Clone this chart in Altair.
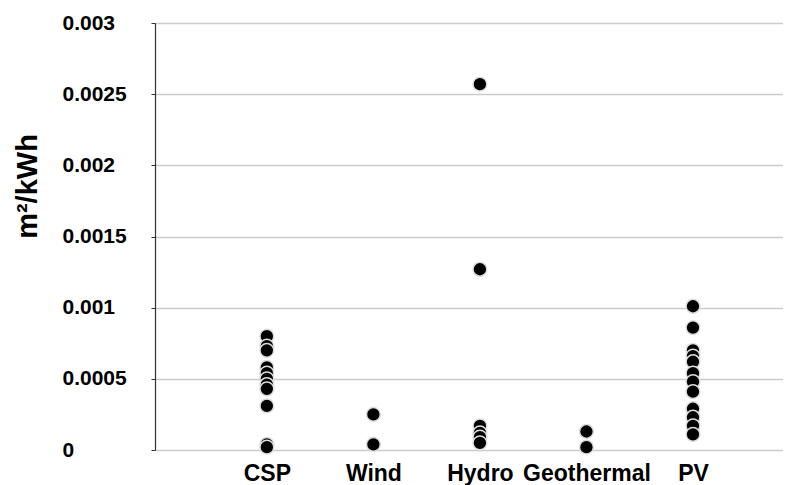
import altair as alt
import pandas as pd

categories = ["CSP", "Wind", "Hydro", "Geothermal", "PV"]
csp = [0.00080, 0.00073, 0.00070, 0.00058, 0.00054, 0.00050, 0.00046, 0.00043, 0.00031, 0.00004, 0.00002]
wind = [0.00025, 0.00004]
hydro = [0.00257, 0.00127, 0.00017, 0.00012, 0.00009, 0.00005]
geothermal = [0.00013, 0.00002]
pv = [0.00101, 0.00086, 0.00070, 0.00066, 0.00062, 0.00054, 0.00048, 0.00041, 0.00029, 0.00023, 0.00017, 0.00011]
y_ticks = [0, 0.0005, 0.001, 0.0015, 0.002, 0.0025, 0.003]

series = [csp, wind, hydro, geothermal, pv]
rows = []
for i, (cat, vals) in enumerate(zip(categories, series)):
    for v in vals:
        rows.append({"pos": i + 1, "category": cat, "value": v})
df = pd.DataFrame(rows)

label_expr = "datum.value == 1 ? 'CSP' : datum.value == 2 ? 'Wind' : datum.value == 3 ? 'Hydro' : datum.value == 4 ? 'Geothermal' : datum.value == 5 ? 'PV' : ''"

chart = alt.Chart(df).mark_point(
    filled=True, shape="circle", size=190, fill="black", stroke="#dddddd", strokeWidth=1.5, opacity=1
).encode(
    x=alt.X("pos:Q", scale=alt.Scale(domain=[-0.05, 5.845], nice=False, zero=False),
            axis=alt.Axis(values=[1, 2, 3, 4, 5], labelExpr=label_expr, title=None, grid=False,
                          domain=False, ticks=False, tickSize=0, labelPadding=30,
                          labelBaseline="alphabetic", labelFontSize=23, labelFontWeight="bold",
                          labelFont="Liberation Sans", labelColor="black", labelFlush=False,
                          labelOverlap=False)),
    y=alt.Y("value:Q", scale=alt.Scale(domain=[0, 0.003], nice=False),
            axis=alt.Axis(values=y_ticks, format="~g", title="m²/kWh",
                          titleFontSize=29, titleFont="Liberation Sans", titleFontWeight="bold",
                          titleColor="black", titleAngle=270, titleX=-128, titleY=163,
                          titleAlign="center", titleBaseline="middle",
                          labelAlign="left", labelPadding=89, labelBaseline="middle",
                          labelFontSize=21, labelFont="Liberation Sans", labelFontWeight="bold",
                          labelColor="black", tickSize=4, tickColor="#333333",
                          domainColor="#333333", domainWidth=1.2,
                          grid=True, gridColor="#cccccc", gridWidth=1.6, labelFlush=False)),
).properties(
    width=628, height=427,
    padding={"left": 147, "top": 15, "right": 0, "bottom": 35},
    autosize=alt.AutoSizeParams(type="none"),
).configure_view(stroke=None)

chart.save("out.html", embed_options={"renderer": "svg", "actions": False})
